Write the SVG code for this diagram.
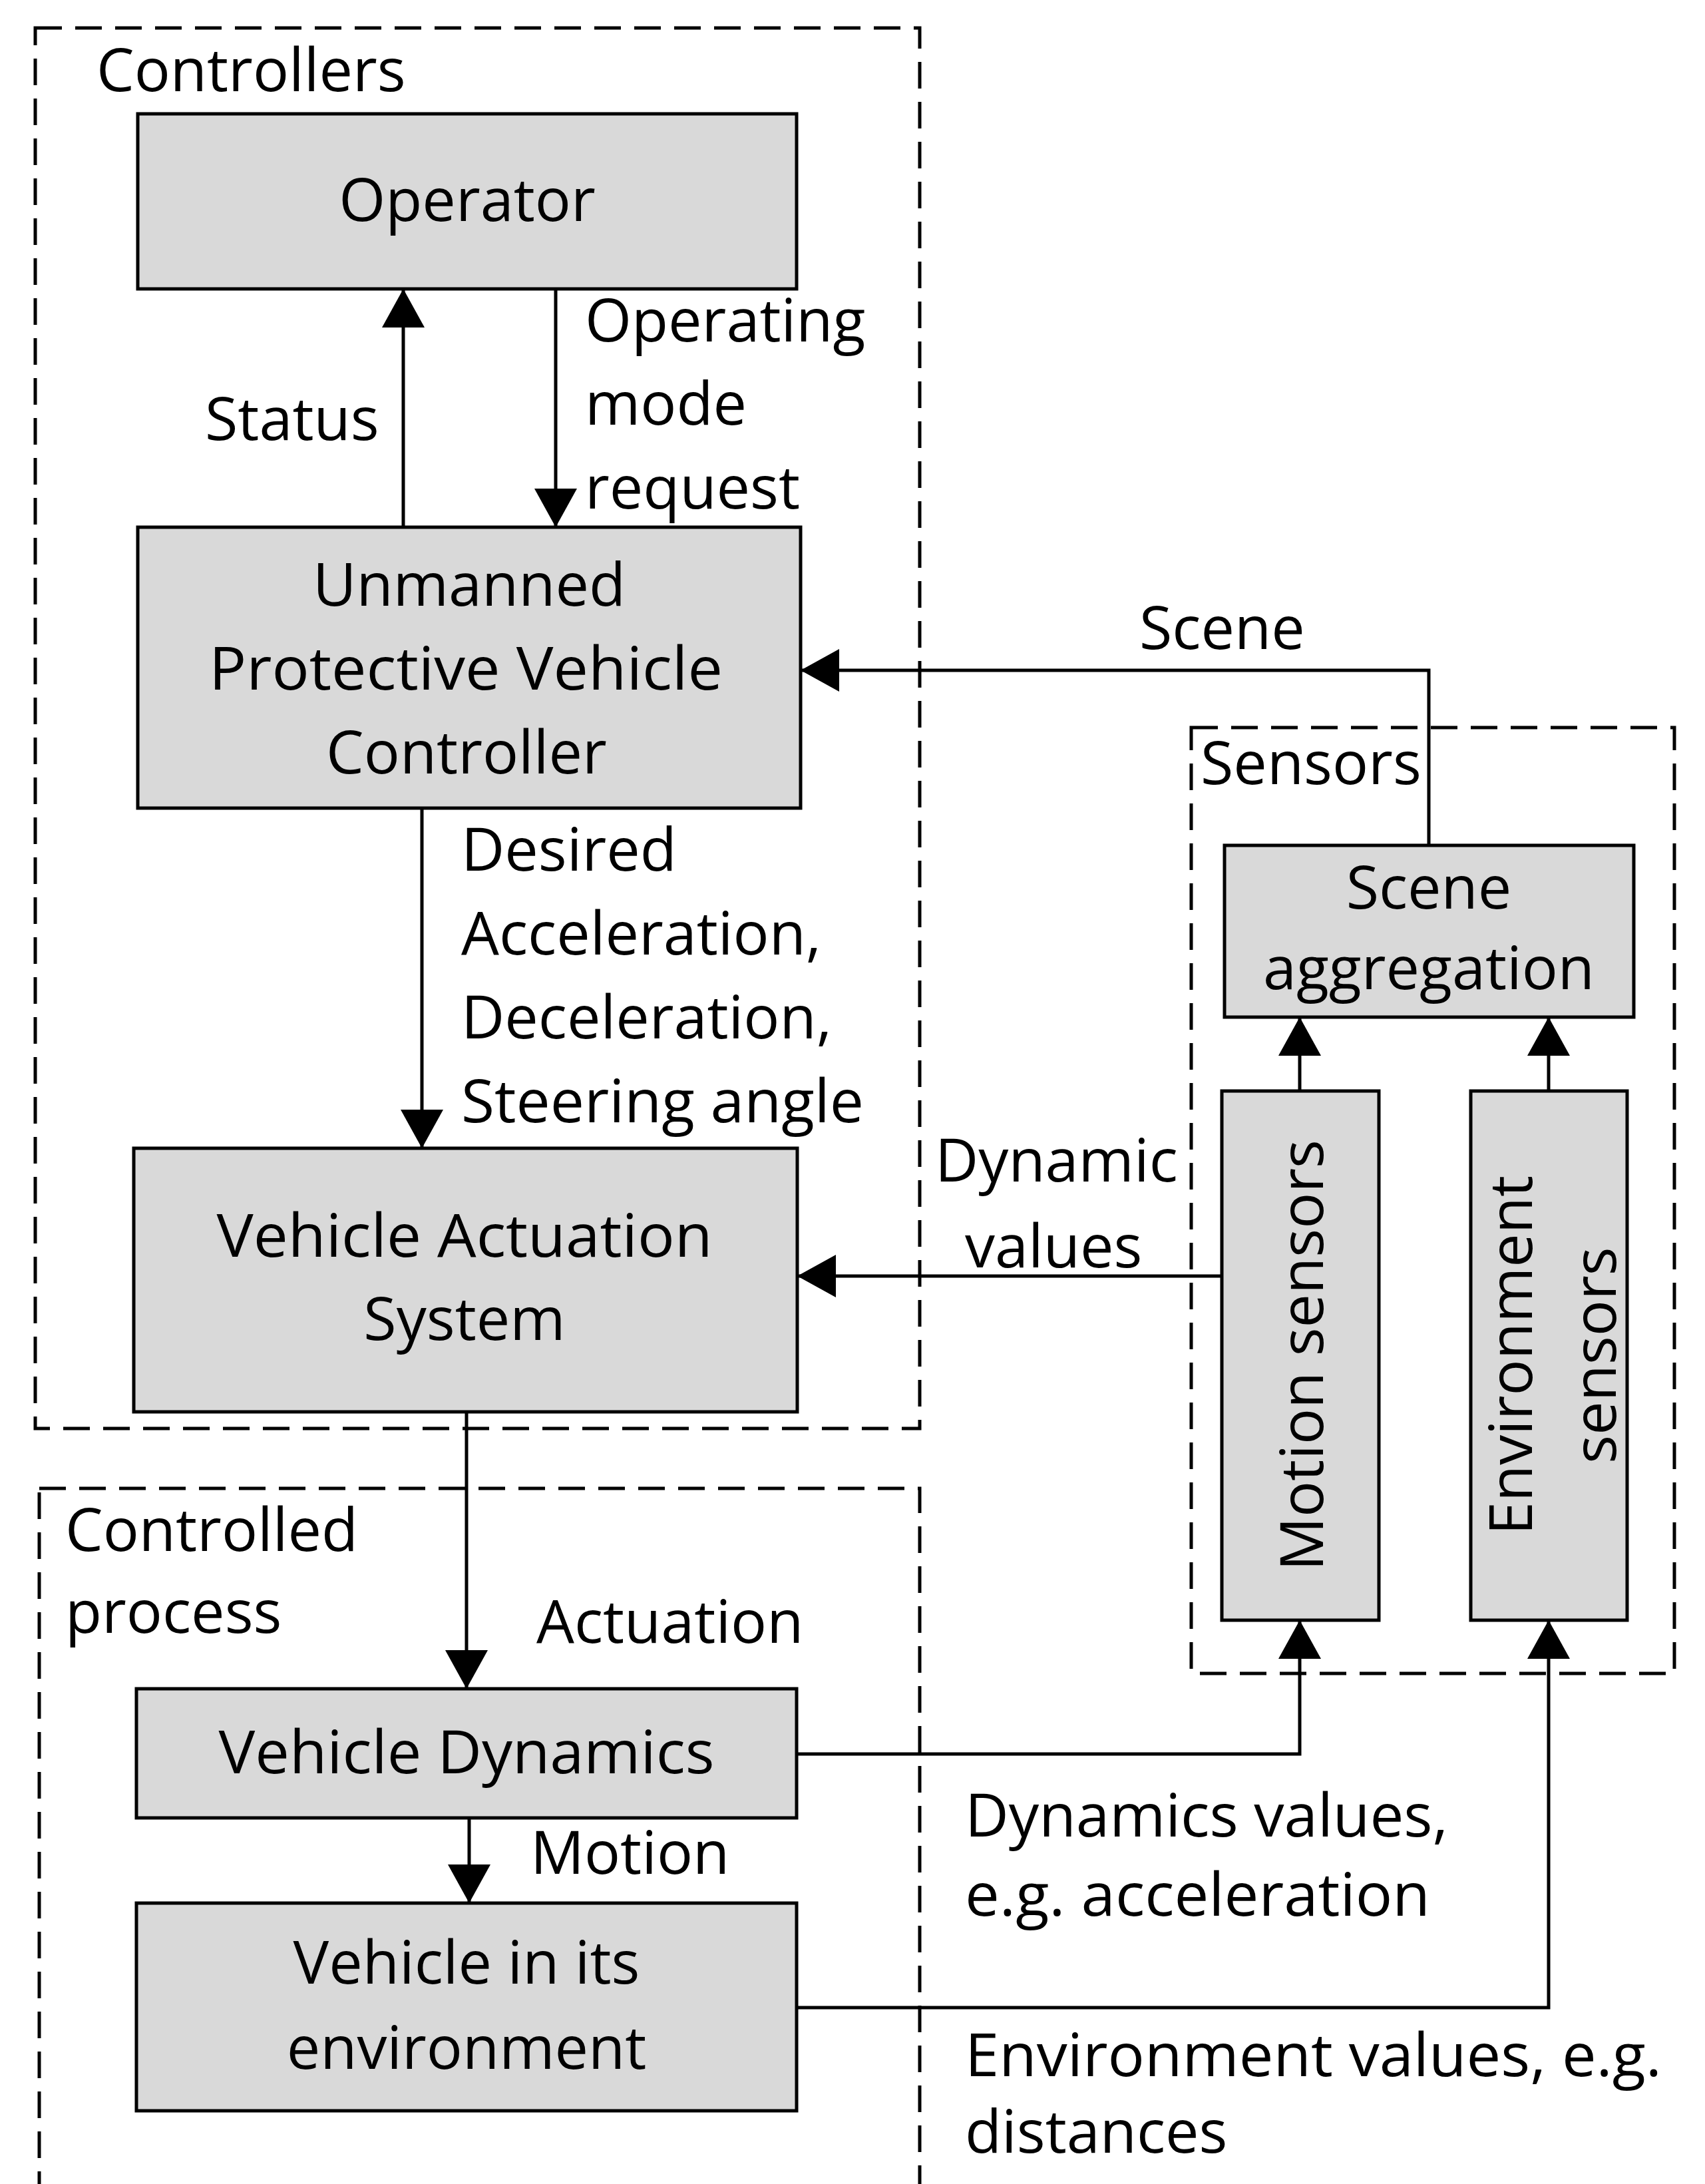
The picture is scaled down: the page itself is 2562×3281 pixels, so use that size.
<svg xmlns="http://www.w3.org/2000/svg" width="2562" height="3281" viewBox="0 0 2562 3281">
<style>
.bg{fill:#ffffff}
.grp{fill:none;stroke:#000;stroke-width:5;stroke-dasharray:40 20}
.box{fill:#d9d9d9;stroke:#000;stroke-width:5}
.t{font-family:"Open Sans","Liberation Sans",sans-serif;font-size:90px;fill:#000}
.c{text-anchor:middle}
.conn{fill:none;stroke:#000;stroke-width:5}
</style>
<defs>
<marker id="arr" viewBox="0 0 58 64" refX="58" refY="32" markerWidth="58" markerHeight="64" markerUnits="userSpaceOnUse" orient="auto">
<path d="M0,0 L58,32 L0,64 z" fill="#000"/>
</marker>
</defs>
<rect class="bg" x="0" y="0" width="2562" height="3281"/>

<g id="group-controllers">
<rect class="grp" x="53" y="42" width="1329" height="2104"/>
<text class="t" x="145" y="137">Controllers</text>
</g>
<g id="group-controlled-process">
<rect class="grp" x="59" y="2236" width="1323" height="1100"/>
<text class="t" x="98" y="2330">Controlled</text>
<text class="t" x="98" y="2453">process</text>
</g>
<g id="group-sensors">
<rect class="grp" x="1790" y="1093" width="726" height="1421"/>
<text class="t" x="1804" y="1178">Sensors</text>
</g>

<g id="operator">
<rect class="box" x="207" y="171" width="990" height="263"/>
<text class="t c" x="702" y="332">Operator</text>
</g>
<g id="upv-controller">
<rect class="box" x="207" y="792" width="996" height="422"/>
<text class="t c" x="705" y="910">Unmanned</text>
<text class="t c" x="700" y="1036" textLength="772" lengthAdjust="spacingAndGlyphs">Protective Vehicle</text>
<text class="t c" x="701" y="1162">Controller</text>
</g>
<g id="vehicle-actuation-system">
<rect class="box" x="201" y="1725" width="997" height="396"/>
<text class="t c" x="698" y="1888" textLength="745" lengthAdjust="spacingAndGlyphs">Vehicle Actuation</text>
<text class="t c" x="698" y="2013">System</text>
</g>
<g id="vehicle-dynamics">
<rect class="box" x="205" y="2537" width="992" height="194"/>
<text class="t c" x="701" y="2664" textLength="745" lengthAdjust="spacingAndGlyphs">Vehicle Dynamics</text>
</g>
<g id="vehicle-environment">
<rect class="box" x="205" y="2859" width="992" height="312"/>
<text class="t c" x="701" y="2980">Vehicle in its</text>
<text class="t c" x="701" y="3108">environment</text>
</g>
<g id="scene-aggregation">
<rect class="box" x="1840" y="1270" width="615" height="258"/>
<text class="t c" x="2147" y="1365">Scene</text>
<text class="t c" x="2147" y="1486">aggregation</text>
</g>
<g id="motion-sensors">
<rect class="box" x="1836" y="1639" width="236" height="795"/>
<text class="t c" transform="translate(1988,2036) rotate(-90)">Motion sensors</text>
</g>
<g id="environment-sensors">
<rect class="box" x="2210" y="1639" width="235" height="795"/>
<text class="t c" transform="translate(2302,2036) rotate(-90)">Environment</text>
<text class="t c" transform="translate(2428,2036) rotate(-90)">sensors</text>
</g>

<g id="connectors">
<line class="conn" x1="606" y1="792" x2="606" y2="434" marker-end="url(#arr)"/>
<line class="conn" x1="835" y1="434" x2="835" y2="792" marker-end="url(#arr)"/>
<polyline class="conn" points="2147,1270 2147,1007 1203,1007" marker-end="url(#arr)"/>
<line class="conn" x1="634" y1="1214" x2="634" y2="1725" marker-end="url(#arr)"/>
<line class="conn" x1="1836" y1="1917" x2="1198" y2="1917" marker-end="url(#arr)"/>
<line class="conn" x1="701" y1="2121" x2="701" y2="2537" marker-end="url(#arr)"/>
<line class="conn" x1="705" y1="2731" x2="705" y2="2859" marker-end="url(#arr)"/>
<polyline class="conn" points="1197,2635 1953,2635 1953,2434" marker-end="url(#arr)"/>
<polyline class="conn" points="1197,3016 2327,3016 2327,2434" marker-end="url(#arr)"/>
<line class="conn" x1="1953" y1="1639" x2="1953" y2="1528" marker-end="url(#arr)"/>
<line class="conn" x1="2327" y1="1639" x2="2327" y2="1528" marker-end="url(#arr)"/>
<text class="t" x="308" y="661">Status</text>
<text class="t" x="879" y="513">Operating</text>
<text class="t" x="879" y="638">mode</text>
<text class="t" x="879" y="764">request</text>
<text class="t" x="1712" y="975">Scene</text>
<text class="t" x="693" y="1308">Desired</text>
<text class="t" x="693" y="1434">Acceleration,</text>
<text class="t" x="693" y="1560">Deceleration,</text>
<text class="t" x="693" y="1686" textLength="605" lengthAdjust="spacingAndGlyphs">Steering angle</text>
<text class="t" x="1405" y="1775">Dynamic</text>
<text class="t" x="1450" y="1904">values</text>
<text class="t" x="806" y="2468">Actuation</text>
<text class="t" x="797" y="2815">Motion</text>
<text class="t" x="1450" y="2759" textLength="726" lengthAdjust="spacingAndGlyphs">Dynamics values,</text>
<text class="t" x="1450" y="2878" textLength="699" lengthAdjust="spacingAndGlyphs">e.g. acceleration</text>
<text class="t" x="1450" y="3119" textLength="1047" lengthAdjust="spacingAndGlyphs">Environment values, e.g.</text>
<text class="t" x="1450" y="3234">distances</text>
</g>
</svg>
